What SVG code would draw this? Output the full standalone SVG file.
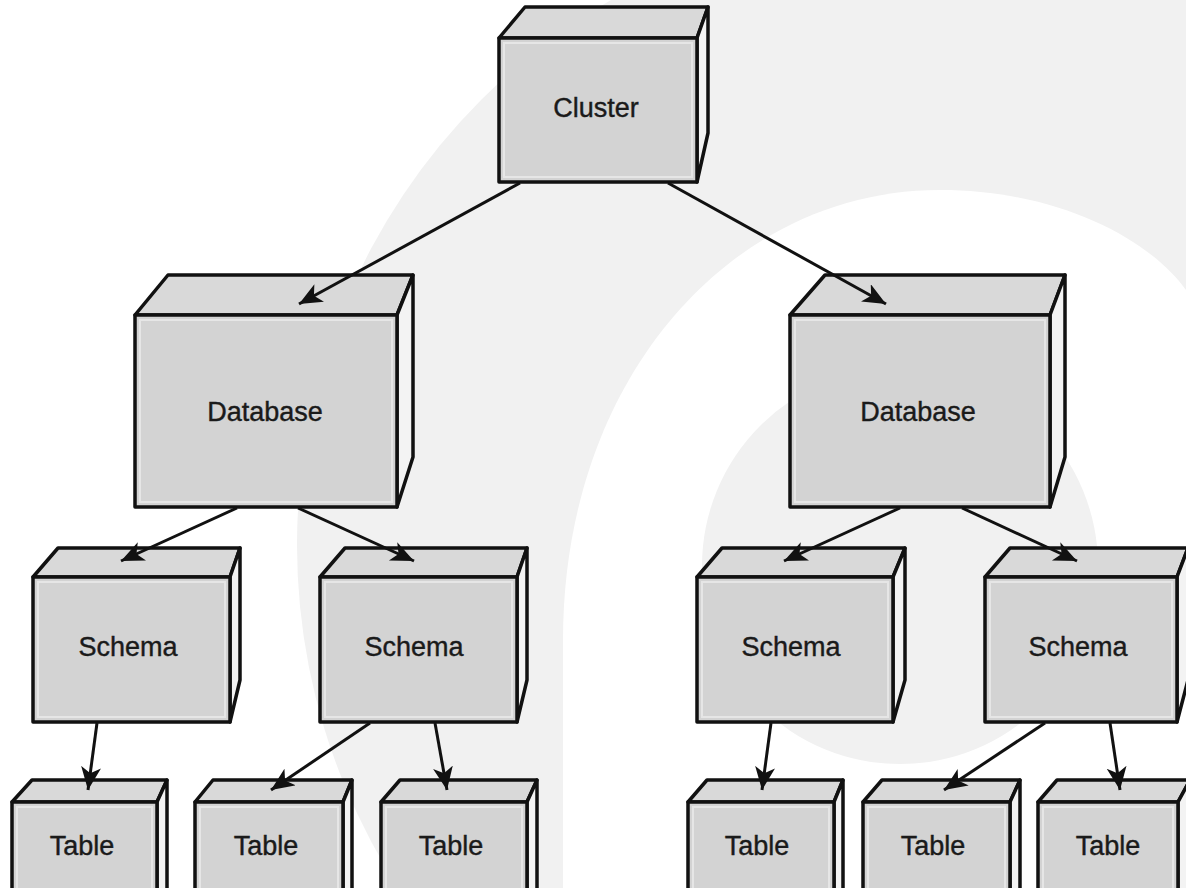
<svg xmlns="http://www.w3.org/2000/svg" width="1186" height="888" viewBox="0 0 1186 888">
  <style>
    .front { fill: #d3d3d3; stroke: #111; stroke-width: 3.5; stroke-linejoin: round; }
    .hl { fill: none; stroke: #e6e6e6; stroke-width: 2; }
    .top { fill: #d9d9d9; stroke: #111; stroke-width: 3.5; stroke-linejoin: round; }
    .side { fill: #f3f3f3; stroke: #111; stroke-width: 3.5; stroke-linejoin: round; }
    .lbl { font-family: "Liberation Sans", Arial, sans-serif; font-size: 27px; fill: #1a1a1a; stroke: #1a1a1a; stroke-width: 0.4; text-anchor: middle; }
    .conn { stroke: #111; stroke-width: 3; fill: none; }
    .wm { fill: #f1f1f1; }
  </style>
  <defs>
    <marker id="arrow" markerUnits="userSpaceOnUse" markerWidth="26" markerHeight="22" refX="23" refY="10" orient="auto">
      <path d="M0,0 L23,10 L0,20 L6,10 Z" fill="#111"/>
    </marker>
  </defs>

  <g id="background">
    <rect x="0" y="0" width="1186" height="888" fill="#ffffff"/>
    <circle class="wm" cx="927" cy="545" r="630"/>
    <path d="M563,888 L563,640 C563,380 730,190 940,190 C1060,190 1150,240 1186,290 L1186,888 Z" fill="#ffffff"/>
    <circle class="wm" cx="900" cy="566" r="198"/>
  </g>

  <g id="cluster">
    <polygon class="top" points="499,38 525,7 708,7 697,38"/>
    <polygon class="side" points="697,38 708,7 708,133 697,182"/>
    <rect class="front" x="499" y="38" width="198" height="144"/>
    <rect class="hl" x="504" y="43" width="188" height="134"/>
    <text class="lbl" x="596" y="117">Cluster</text>
  </g>

  <g id="database-left">
    <polygon class="top" points="135,315 168,275 413,275 397,315"/>
    <polygon class="side" points="397,315 413,275 413,457 397,507"/>
    <rect class="front" x="135" y="315" width="262" height="192"/>
    <rect class="hl" x="140" y="320" width="252" height="182"/>
    <text class="lbl" x="265" y="421">Database</text>
  </g>

  <g id="database-right">
    <polygon class="top" points="790,315 825,275 1065,275 1050,315"/>
    <polygon class="side" points="1050,315 1065,275 1065,457 1050,507"/>
    <rect class="front" x="790" y="315" width="260" height="192"/>
    <rect class="hl" x="795" y="320" width="250" height="182"/>
    <text class="lbl" x="918" y="421">Database</text>
  </g>

  <g id="schema-1">
    <polygon class="top" points="33,577 58,548 240,548 230,577"/>
    <polygon class="side" points="230,577 240,548 240,680 230,722"/>
    <rect class="front" x="33" y="577" width="197" height="145"/>
    <rect class="hl" x="38" y="582" width="187" height="135"/>
    <text class="lbl" x="128" y="656">Schema</text>
  </g>

  <g id="schema-2">
    <polygon class="top" points="320,577 345,548 527,548 517,577"/>
    <polygon class="side" points="517,577 527,548 527,680 517,722"/>
    <rect class="front" x="320" y="577" width="197" height="145"/>
    <rect class="hl" x="325" y="582" width="187" height="135"/>
    <text class="lbl" x="414" y="656">Schema</text>
  </g>

  <g id="schema-3">
    <polygon class="top" points="697,577 722,548 905,548 893,577"/>
    <polygon class="side" points="893,577 905,548 905,680 893,722"/>
    <rect class="front" x="697" y="577" width="196" height="145"/>
    <rect class="hl" x="702" y="582" width="186" height="135"/>
    <text class="lbl" x="791" y="656">Schema</text>
  </g>

  <g id="schema-4">
    <polygon class="top" points="985,577 1010,548 1188,548 1177,577"/>
    <polygon class="side" points="1177,577 1188,548 1188,680 1177,722"/>
    <rect class="front" x="985" y="577" width="192" height="145"/>
    <rect class="hl" x="990" y="582" width="182" height="135"/>
    <text class="lbl" x="1078" y="656">Schema</text>
  </g>

  <g id="table-1">
    <polygon class="top" points="12,802 32,780 167,780 157,802"/>
    <polygon class="side" points="157,802 167,780 167,900 157,900"/>
    <rect class="front" x="12" y="802" width="145" height="100"/>
    <rect class="hl" x="17" y="807" width="135" height="90"/>
    <text class="lbl" x="82" y="855">Table</text>
  </g>

  <g id="table-2">
    <polygon class="top" points="195,802 213,780 352,780 343,802"/>
    <polygon class="side" points="343,802 352,780 352,900 343,900"/>
    <rect class="front" x="195" y="802" width="148" height="100"/>
    <rect class="hl" x="200" y="807" width="138" height="90"/>
    <text class="lbl" x="266" y="855">Table</text>
  </g>

  <g id="table-3">
    <polygon class="top" points="381,802 400,780 537,780 527,802"/>
    <polygon class="side" points="527,802 537,780 537,900 527,900"/>
    <rect class="front" x="381" y="802" width="146" height="100"/>
    <rect class="hl" x="386" y="807" width="136" height="90"/>
    <text class="lbl" x="451" y="855">Table</text>
  </g>

  <g id="table-4">
    <polygon class="top" points="688,802 707,780 843,780 834,802"/>
    <polygon class="side" points="834,802 843,780 843,900 834,900"/>
    <rect class="front" x="688" y="802" width="146" height="100"/>
    <rect class="hl" x="693" y="807" width="136" height="90"/>
    <text class="lbl" x="757" y="855">Table</text>
  </g>

  <g id="table-5">
    <polygon class="top" points="863,802 882,780 1020,780 1010,802"/>
    <polygon class="side" points="1010,802 1020,780 1020,900 1010,900"/>
    <rect class="front" x="863" y="802" width="147" height="100"/>
    <rect class="hl" x="868" y="807" width="137" height="90"/>
    <text class="lbl" x="933" y="855">Table</text>
  </g>

  <g id="table-6">
    <polygon class="top" points="1038,802 1057,780 1190,780 1178,802"/>
    <polygon class="side" points="1178,802 1190,780 1190,900 1178,900"/>
    <rect class="front" x="1038" y="802" width="140" height="100"/>
    <rect class="hl" x="1043" y="807" width="130" height="90"/>
    <text class="lbl" x="1108" y="855">Table</text>
  </g>

  <g id="connectors">
    <line class="conn" x1="520" y1="183" x2="299" y2="304" marker-end="url(#arrow)"/>
    <line class="conn" x1="668" y1="183" x2="886" y2="304" marker-end="url(#arrow)"/>
    <line class="conn" x1="237" y1="508" x2="121" y2="561" marker-end="url(#arrow)"/>
    <line class="conn" x1="298" y1="508" x2="414" y2="561" marker-end="url(#arrow)"/>
    <line class="conn" x1="900" y1="508" x2="784" y2="561" marker-end="url(#arrow)"/>
    <line class="conn" x1="962" y1="508" x2="1077" y2="561" marker-end="url(#arrow)"/>
    <line class="conn" x1="97" y1="723" x2="88" y2="790" marker-end="url(#arrow)"/>
    <line class="conn" x1="370" y1="723" x2="271" y2="790" marker-end="url(#arrow)"/>
    <line class="conn" x1="435" y1="723" x2="447" y2="790" marker-end="url(#arrow)"/>
    <line class="conn" x1="771" y1="723" x2="762" y2="790" marker-end="url(#arrow)"/>
    <line class="conn" x1="1045" y1="723" x2="944" y2="790" marker-end="url(#arrow)"/>
    <line class="conn" x1="1110" y1="723" x2="1120" y2="790" marker-end="url(#arrow)"/>
  </g>
</svg>
